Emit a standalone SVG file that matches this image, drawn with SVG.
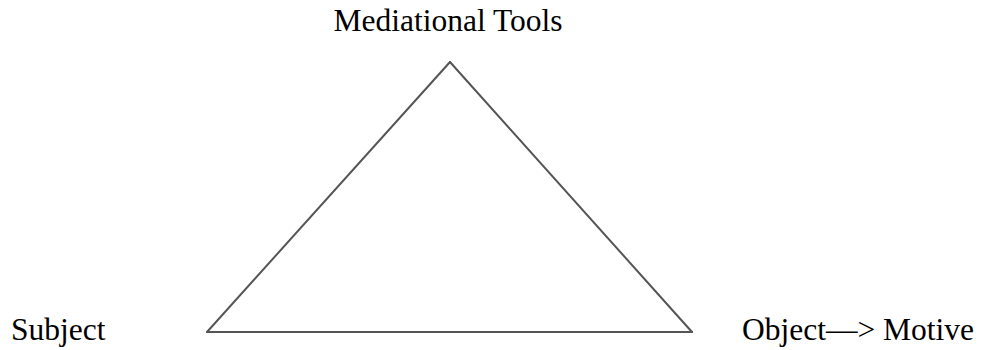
<svg xmlns="http://www.w3.org/2000/svg" width="984" height="350" viewBox="0 0 984 350">
<style>
.lbl{font-family:"Liberation Serif","Times New Roman",serif;font-size:31.5px;fill:#000}
.edge{stroke:#555;stroke-width:2;fill:none;stroke-linecap:round;stroke-linejoin:miter}
</style>
<rect width="984" height="350" fill="#fff"/>
<g id="connectors">
<path class="edge" d="M450 62 L207 332"/>
<path class="edge" d="M450 62 L692 332"/>
<path class="edge" d="M207 332 L692 332"/>
</g>
<g id="node-tools"><text class="lbl" x="448" y="31" text-anchor="middle">Mediational Tools</text></g>
<g id="node-subject"><text class="lbl" x="11" y="340">Subject</text></g>
<g id="node-object"><text class="lbl" x="742" y="340">Object—&gt; Motive</text></g>
</svg>
